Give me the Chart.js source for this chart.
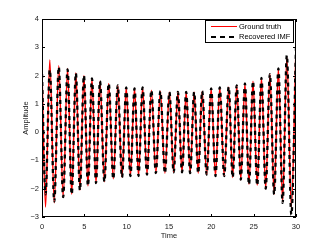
<!DOCTYPE html>
<html>
<head>
<meta charset="utf-8">
<script src="https://cdn.jsdelivr.net/npm/chart.js@4/dist/chart.umd.min.js"></script>
<style>
  html, body { margin: 0; padding: 0; background: #fff; }
  #wrap { width: 327px; height: 246px; }
</style>
</head>
<body>
<div id="wrap"><canvas id="chart"></canvas></div>
<script>
// extrema of the signal (time in s)
const times = [0,
  0.42, 0.92, 1.45, 1.98, 2.5, 3.02, 3.51, 4.0, 4.48, 4.95,
  5.43, 5.9, 6.38, 6.85, 7.37, 7.88, 8.42, 8.95, 9.45, 9.95,
  10.44, 10.93, 11.4, 11.88, 12.4, 12.92, 13.45, 13.98, 14.52, 15.05,
  15.55, 16.05, 16.54, 17.03, 17.5, 17.97, 18.45, 18.92, 19.45, 19.98,
  20.49, 21.0, 21.52, 22.05, 22.52, 23.0, 23.48, 23.97, 24.45, 24.92,
  25.42, 25.92, 26.42, 26.92, 27.42, 27.92, 28.42, 28.92, 29.45, 30];

const groundTruth = [2.15,
  -2.65, 2.55, -2.5, 2.35, -2.3, 2.25, -2.2, 2.1, -2.05, 2.0,
  -1.9, 1.9, -1.8, 1.8, -1.75, 1.72, -1.65, 1.65, -1.6, 1.58,
  -1.55, 1.55, -1.55, 1.58, -1.5, 1.48, -1.45, 1.45, -1.45, 1.42,
  -1.42, 1.42, -1.42, 1.42, -1.45, 1.42, -1.45, 1.45, -1.5, 1.55,
  -1.55, 1.58, -1.55, 1.6, -1.6, 1.65, -1.68, 1.72, -1.85, 1.8,
  -1.88, 1.92, -2.0, 2.05, -2.2, 2.25, -2.45, 2.65, -2.65, 3.0];

const recovered = [2.05,
  -2.2, 2.2, -2.45, 2.3, -2.3, 2.22, -2.2, 2.08, -2.05, 2.0,
  -1.9, 1.9, -1.8, 1.8, -1.75, 1.72, -1.65, 1.65, -1.6, 1.58,
  -1.55, 1.55, -1.55, 1.58, -1.5, 1.48, -1.45, 1.45, -1.45, 1.42,
  -1.42, 1.42, -1.42, 1.42, -1.45, 1.42, -1.45, 1.45, -1.5, 1.55,
  -1.55, 1.58, -1.55, 1.6, -1.6, 1.65, -1.68, 1.72, -1.85, 1.8,
  -1.88, 1.92, -2.0, 2.05, -2.2, 2.25, -2.5, 2.72, -2.92, 3.0];

const xTicks = [0, 5, 10, 15, 20, 25, 30];
const yTicks = [-3, -2, -1, 0, 1, 2, 3, 4];
const legendLabels = ['Ground truth', 'Recovered IMF'];

const FONT = 'Liberation Sans, Arial, Helvetica, sans-serif';

const toPoints = (ys) => ys.map((y, i) => ({ x: times[i], y: y }));

// matlab style box with inward ticks
const boxPlugin = {
  id: 'box',
  afterDraw(chart) {
    const { ctx, chartArea: a, scales } = chart;
    ctx.save();
    ctx.strokeStyle = '#000';
    ctx.lineWidth = 1;
    ctx.strokeRect(a.left + 0.5, a.top + 0.5, a.right - a.left - 1, a.bottom - a.top - 1);
    ctx.beginPath();
    xTicks.forEach(v => {
      const x = Math.round(scales.x.getPixelForValue(v)) + 0.5;
      ctx.moveTo(x, a.bottom); ctx.lineTo(x, a.bottom - 3);
      ctx.moveTo(x, a.top); ctx.lineTo(x, a.top + 3);
    });
    yTicks.forEach(v => {
      const y = Math.round(scales.y.getPixelForValue(v)) + 0.5;
      ctx.moveTo(a.left, y); ctx.lineTo(a.left + 3, y);
      ctx.moveTo(a.right, y); ctx.lineTo(a.right - 3, y);
    });
    ctx.stroke();

    // legend in the top right corner
    const lx = a.right - 91, ly = a.top + 1, lw = 89, lh = 23;
    ctx.fillStyle = '#fff';
    ctx.fillRect(lx, ly, lw, lh);
    ctx.strokeRect(lx + 0.5, ly + 0.5, lw - 1, lh - 1);
    chart.data.datasets.forEach((ds, i) => {
      const y = ly + 6.5 + i * 10.5;
      ctx.beginPath();
      ctx.strokeStyle = ds.borderColor;
      ctx.lineWidth = i === 0 ? 1 : 2.2;
      ctx.setLineDash(i === 0 ? [] : [5, 4]);
      ctx.moveTo(lx + 6, y); ctx.lineTo(lx + 32, y);
      ctx.stroke();
      ctx.setLineDash([]);
      ctx.fillStyle = '#000';
      ctx.font = '7.5px ' + FONT;
      ctx.textBaseline = 'middle';
      ctx.textAlign = 'left';
      ctx.fillText(legendLabels[i], lx + 34, y);
    });
    ctx.restore();
  }
};

const minusFmt = (v) => String(v).replace('-', '\u2212');

new Chart(document.getElementById('chart'), {
  type: 'line',
  data: {
    datasets: [
      {
        label: legendLabels[0],
        data: toPoints(groundTruth),
        borderColor: '#ff0000',
        borderWidth: 1.5,
        pointRadius: 0,
        cubicInterpolationMode: 'monotone',
        order: 2
      },
      {
        label: legendLabels[1],
        data: toPoints(recovered),
        borderColor: '#000000',
        borderWidth: 2.3,
        borderDash: [4, 4],
        pointRadius: 0,
        cubicInterpolationMode: 'monotone',
        order: 1
      }
    ]
  },
  options: {
    responsive: true,
    maintainAspectRatio: false,
    animation: false,
    layout: { padding: { left: 0, right: 31, top: 19, bottom: 0 } },
    plugins: { legend: { display: false }, tooltip: { enabled: false } },
    scales: {
      x: {
        type: 'linear',
        min: 0, max: 30,
        afterFit: (s) => { s.height = 29; },
        afterBuildTicks: (s) => { s.ticks = xTicks.map(v => ({ value: v })); },
        grid: { display: false, drawTicks: false },
        border: { display: false },
        ticks: { color: '#222', padding: 5, maxRotation: 0, font: { family: FONT, size: 7.5 } },
        title: { display: true, text: 'Time', color: '#222', padding: { top: 0, bottom: 6 }, font: { family: FONT, size: 7.5 } }
      },
      y: {
        min: -3, max: 4,
        afterFit: (s) => { s.width = 42; },
        afterBuildTicks: (s) => { s.ticks = yTicks.map(v => ({ value: v })); },
        grid: { display: false, drawTicks: false },
        border: { display: false },
        ticks: { color: '#222', padding: 3, font: { family: FONT, size: 7.5 }, callback: minusFmt },
        title: { display: true, text: 'Amplitude', color: '#222', padding: { top: 21, bottom: 0 }, font: { family: FONT, size: 7.5 } }
      }
    }
  },
  plugins: [boxPlugin]
});
</script>
</body>
</html>
